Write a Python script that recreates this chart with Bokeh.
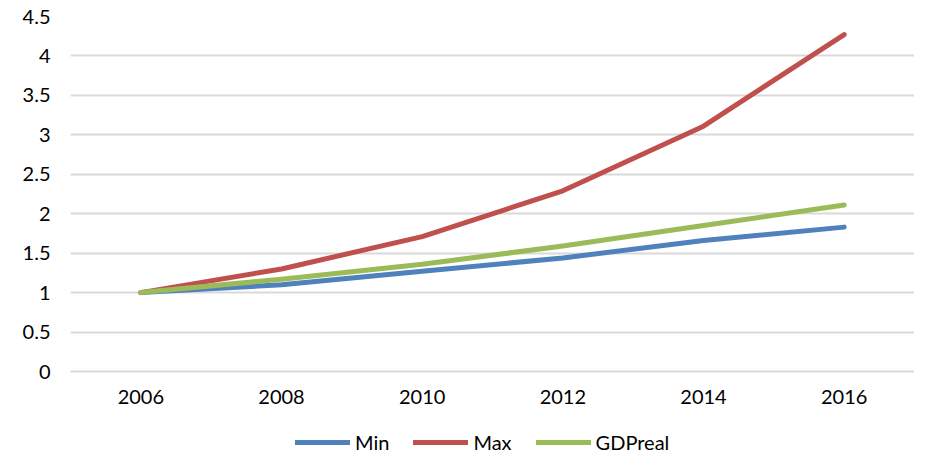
from bokeh.plotting import figure
from bokeh.models import Legend, LegendItem, FixedTicker, Range1d
from bokeh.layouts import column
from bokeh.embed import file_html
from bokeh.resources import INLINE

years = ["2006", "2008", "2010", "2012", "2014", "2016"]
min_vals = [1.0, 1.10, 1.27, 1.44, 1.66, 1.83]
max_vals = [1.0, 1.30, 1.71, 2.29, 3.11, 4.27]
gdp_vals = [1.0, 1.17, 1.36, 1.59, 1.85, 2.11]
y_ticks = [0, 0.5, 1, 1.5, 2, 2.5, 3, 3.5, 4, 4.5]
series_names = ["Min", "Max", "GDPreal"]
series_colors = ["#4F81BD", "#C0504D", "#9BBB59"]

FONT = "Lato"
p = figure(x_range=years, y_range=(0, 4.5), width=914, height=415,
           output_backend="svg", toolbar_location=None,
           min_border_left=70, min_border_right=0, min_border_top=16, min_border_bottom=44)
p.outline_line_color = None

for name, vals, col in zip(series_names, [min_vals, max_vals, gdp_vals], series_colors):
    p.line(years, vals, line_color=col, line_width=5, line_cap="round", line_join="round")

p.xgrid.grid_line_color = None
p.ygrid.grid_line_color = "#d9d9d9"
p.ygrid.grid_line_width = 2
p.yaxis.ticker = FixedTicker(ticks=y_ticks)
p.yaxis.major_label_overrides = {0: "0", 0.5: "0.5", 1: "1", 1.5: "1.5", 2: "2", 2.5: "2.5",
                                 3: "3", 3.5: "3.5", 4: "4", 4.5: "4.5"}
p.yaxis.axis_line_color = None
p.yaxis.major_tick_line_color = None
p.yaxis.minor_tick_line_color = None
p.yaxis.major_tick_out = 0
p.yaxis.major_label_standoff = 20
p.xaxis.axis_line_color = "#d9d9d9"
p.xaxis.axis_line_width = 2
p.xaxis.major_tick_line_color = None
p.xaxis.major_tick_out = 0
p.xaxis.major_label_standoff = 18
for ax in (p.xaxis, p.yaxis):
    ax.major_label_text_font = FONT
    ax.major_label_text_font_size = "20px"
    ax.major_label_text_color = "#000000"

# legend strip: same series drawn out of its visible y-range, only the legend shows
lg = figure(width=914, height=40, x_range=years, y_range=Range1d(10, 11),
            output_backend="svg", toolbar_location=None,
            min_border_left=70, min_border_right=0, min_border_top=0, min_border_bottom=0)
lg.axis.visible = False
lg.grid.visible = False
lg.outline_line_color = None
items = []
for name, vals, col in zip(series_names, [min_vals, max_vals, gdp_vals], series_colors):
    r = lg.line(years, vals, line_color=col, line_width=5, line_cap="round")
    items.append(LegendItem(label=name, renderers=[r]))
legend = Legend(items=items, orientation="horizontal", location=(225, 1),
                label_text_font=FONT, label_text_font_size="20px", label_text_color="#000000",
                glyph_width=55, glyph_height=20, label_standoff=5, spacing=24,
                padding=0, margin=0, border_line_color=None, background_fill_alpha=0)
lg.add_layout(legend, "center")

layout = column(p, lg, spacing=0)
open("out.html", "w").write(file_html(layout, INLINE))
